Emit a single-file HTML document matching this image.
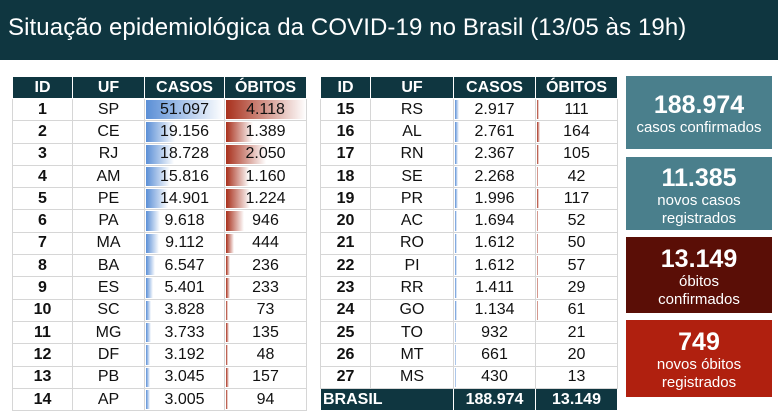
<!DOCTYPE html>
<html><head><meta charset="utf-8"><style>
body{margin:0;width:778px;height:410px;overflow:hidden;background:#fff;font-family:"Liberation Sans",sans-serif;position:relative}
.title{position:absolute;left:0;top:0;width:778px;height:60px;background:#0f3640;color:#fff;font-size:24px;line-height:56px;padding-left:8px;box-sizing:border-box;letter-spacing:0.1px}
table{position:absolute;border-collapse:collapse;table-layout:fixed;font-size:16px}
td,th{padding:0;text-align:center;border:1px solid #d6d6d6;position:relative;overflow:hidden;color:#111}
th{background:#0f3640;color:#fff;font-weight:bold;height:21px;border-color:#fff}
td{height:21.3px}
td.id{font-weight:bold}
.b{position:absolute;left:1px;top:1px;bottom:1px}
.bc{background:linear-gradient(to right,#5b8fd6,#fff)}
.bo{background:linear-gradient(to right,#a8301c,#fff)}
td span{position:relative}
tr.tot td{background:#0f3640;color:#fff;font-weight:bold;border-color:#fff}
.box{position:absolute;left:626px;width:146px;color:#fff;text-align:center;font-size:15px;line-height:18px}
.box b{display:block;font-size:25px;line-height:28px}
</style></head><body>
<div class="title">Situação epidemiológica da COVID-19 no Brasil (13/05 às 19h)</div>
<table style="left:12px;top:76px;width:294px">
<colgroup><col style="width:60px"><col style="width:72px"><col style="width:80px"><col style="width:82px"></colgroup>
<tr><th>ID</th><th>UF</th><th>CASOS</th><th>ÓBITOS</th></tr>
<tr><td class="id">1</td><td>SP</td><td><div class="b bc" style="width:78px"></div><span>51.097</span></td><td><div class="b bo" style="width:80px"></div><span>4.118</span></td></tr>
<tr><td class="id">2</td><td>CE</td><td><div class="b bc" style="width:29px"></div><span>19.156</span></td><td><div class="b bo" style="width:27px"></div><span>1.389</span></td></tr>
<tr><td class="id">3</td><td>RJ</td><td><div class="b bc" style="width:28px"></div><span>18.728</span></td><td><div class="b bo" style="width:40px"></div><span>2.050</span></td></tr>
<tr><td class="id">4</td><td>AM</td><td><div class="b bc" style="width:24px"></div><span>15.816</span></td><td><div class="b bo" style="width:23px"></div><span>1.160</span></td></tr>
<tr><td class="id">5</td><td>PE</td><td><div class="b bc" style="width:22px"></div><span>14.901</span></td><td><div class="b bo" style="width:24px"></div><span>1.224</span></td></tr>
<tr><td class="id">6</td><td>PA</td><td><div class="b bc" style="width:14px"></div><span>9.618</span></td><td><div class="b bo" style="width:18px"></div><span>946</span></td></tr>
<tr><td class="id">7</td><td>MA</td><td><div class="b bc" style="width:13px"></div><span>9.112</span></td><td><div class="b bo" style="width:8px"></div><span>444</span></td></tr>
<tr><td class="id">8</td><td>BA</td><td><div class="b bc" style="width:9px"></div><span>6.547</span></td><td><div class="b bo" style="width:4px"></div><span>236</span></td></tr>
<tr><td class="id">9</td><td>ES</td><td><div class="b bc" style="width:7px"></div><span>5.401</span></td><td><div class="b bo" style="width:4px"></div><span>233</span></td></tr>
<tr><td class="id">10</td><td>SC</td><td><div class="b bc" style="width:5px"></div><span>3.828</span></td><td><div class="b bo" style="width:2px"></div><span>73</span></td></tr>
<tr><td class="id">11</td><td>MG</td><td><div class="b bc" style="width:5px"></div><span>3.733</span></td><td><div class="b bo" style="width:3px"></div><span>135</span></td></tr>
<tr><td class="id">12</td><td>DF</td><td><div class="b bc" style="width:4px"></div><span>3.192</span></td><td><div class="b bo" style="width:2px"></div><span>48</span></td></tr>
<tr><td class="id">13</td><td>PB</td><td><div class="b bc" style="width:4px"></div><span>3.045</span></td><td><div class="b bo" style="width:3px"></div><span>157</span></td></tr>
<tr><td class="id">14</td><td>AP</td><td><div class="b bc" style="width:4px"></div><span>3.005</span></td><td><div class="b bo" style="width:2px"></div><span>94</span></td></tr>
</table>
<table style="left:320px;top:76px;width:297px">
<colgroup><col style="width:50px"><col style="width:83px"><col style="width:82px"><col style="width:82px"></colgroup>
<tr><th>ID</th><th>UF</th><th>CASOS</th><th>ÓBITOS</th></tr>
<tr><td class="id">15</td><td>RS</td><td><div class="b bc" style="width:4px"></div><span>2.917</span></td><td><div class="b bo" style="width:2px"></div><span>111</span></td></tr>
<tr><td class="id">16</td><td>AL</td><td><div class="b bc" style="width:4px"></div><span>2.761</span></td><td><div class="b bo" style="width:3px"></div><span>164</span></td></tr>
<tr><td class="id">17</td><td>RN</td><td><div class="b bc" style="width:3px"></div><span>2.367</span></td><td><div class="b bo" style="width:2px"></div><span>105</span></td></tr>
<tr><td class="id">18</td><td>SE</td><td><div class="b bc" style="width:3px"></div><span>2.268</span></td><td><div class="b bo" style="width:1px"></div><span>42</span></td></tr>
<tr><td class="id">19</td><td>PR</td><td><div class="b bc" style="width:3px"></div><span>1.996</span></td><td><div class="b bo" style="width:2px"></div><span>117</span></td></tr>
<tr><td class="id">20</td><td>AC</td><td><div class="b bc" style="width:2px"></div><span>1.694</span></td><td><div class="b bo" style="width:1px"></div><span>52</span></td></tr>
<tr><td class="id">21</td><td>RO</td><td><div class="b bc" style="width:2px"></div><span>1.612</span></td><td><div class="b bo" style="width:1px"></div><span>50</span></td></tr>
<tr><td class="id">22</td><td>PI</td><td><div class="b bc" style="width:2px"></div><span>1.612</span></td><td><div class="b bo" style="width:1px"></div><span>57</span></td></tr>
<tr><td class="id">23</td><td>RR</td><td><div class="b bc" style="width:2px"></div><span>1.411</span></td><td><div class="b bo" style="width:1px"></div><span>29</span></td></tr>
<tr><td class="id">24</td><td>GO</td><td><div class="b bc" style="width:2px"></div><span>1.134</span></td><td><div class="b bo" style="width:1px"></div><span>61</span></td></tr>
<tr><td class="id">25</td><td>TO</td><td><div class="b bc" style="width:1px"></div><span>932</span></td><td><span>21</span></td></tr>
<tr><td class="id">26</td><td>MT</td><td><div class="b bc" style="width:1px"></div><span>661</span></td><td><span>20</span></td></tr>
<tr><td class="id">27</td><td>MS</td><td><div class="b bc" style="width:1px"></div><span>430</span></td><td><span>13</span></td></tr>
<tr class="tot"><td colspan="2" style="text-align:left;padding-left:2px">BRASIL</td><td>188.974</td><td>13.149</td></tr>
</table>
<div class="box" style="top:76px;height:73px;background:#4a7f8c;padding-top:15px;box-sizing:border-box"><b>188.974</b>casos confirmados</div>
<div class="box" style="top:157px;height:73px;background:#4a7f8c;padding-top:7px;box-sizing:border-box"><b>11.385</b>novos casos<br>registrados</div>
<div class="box" style="top:237px;height:76px;background:#5a0e06;padding-top:8px;box-sizing:border-box"><b>13.149</b>óbitos<br>confirmados</div>
<div class="box" style="top:320px;height:77px;background:#b0200f;padding-top:8px;box-sizing:border-box"><b>749</b>novos óbitos<br>registrados</div>
</body></html>
